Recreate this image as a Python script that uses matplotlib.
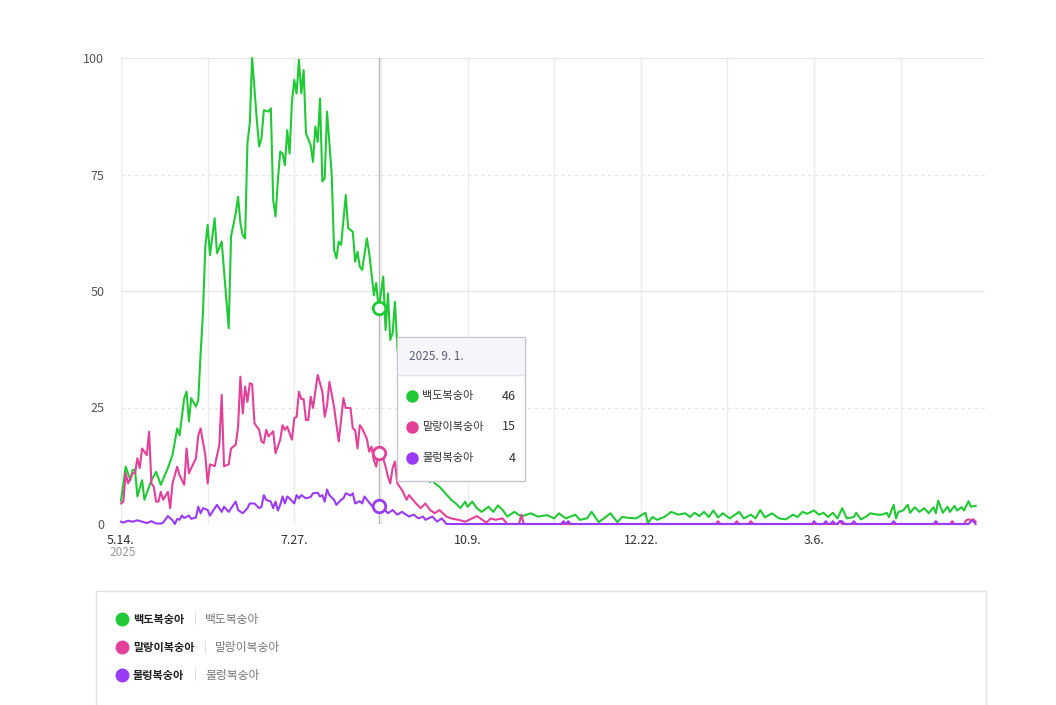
import numpy as np
import matplotlib
matplotlib.use("Agg")
import matplotlib.pyplot as plt
from matplotlib.patches import Rectangle

plt.rcParams['font.family'] = ['Noto Sans CJK KR', 'DejaVu Sans']

# day offsets from 2025-05-14, daily search index (max = 100)
start = np.datetime64('2025-05-14')
names = ['백도복숭아', '말랑이복숭아', '물렁복숭아']
colors = ['#22c936', '#e2419a', '#9a3bf5']

green_days = [0, 2, 4, 5, 6, 7, 9, 10, 13, 15, 17, 20, 22, 24, 25, 27, 28, 29, 30, 32, 33, 34, 35, 36, 37, 38,
              40, 41, 43, 46, 47, 49, 50, 51, 52, 53, 54, 55, 56, 58, 59, 60, 61, 63, 64, 65, 66, 67, 68, 69, 70,
              71, 72, 73, 74, 75, 76, 77, 78, 79, 81, 82, 83, 84, 85, 86, 87, 88, 90, 91, 92, 93, 94, 96, 97, 99,
              100, 101, 102, 103, 105, 106, 107, 108, 109, 110, 111, 112, 113, 114, 115, 116, 117, 118, 119, 120,
              121, 122, 123, 124, 125, 126, 127, 128, 129, 130, 131, 132, 133, 134, 136, 138, 141, 143, 145, 147,
              148, 150, 152, 154, 157, 159, 161, 163, 165, 168, 171, 175, 178, 182, 185, 187, 190, 194, 196, 199,
              201, 204, 207, 209, 212, 214, 217, 220, 224, 225, 227, 229, 232, 235, 238, 241, 243, 245, 247, 249,
              251, 253, 255, 257, 260, 264, 266, 269, 271, 273, 275, 278, 281, 284, 287, 289, 291, 293, 296, 298,
              300, 302, 304, 306, 308, 310, 313, 314, 316, 318, 320, 323, 325, 327, 328, 330, 331, 332, 334, 336,
              337, 339, 341, 343, 345, 347, 348, 349, 351, 353, 354, 356, 357, 359, 360, 362, 363, 365]
green_vals = [5, 12.3, 9.4, 11.6, 11.6, 5.9, 9.4, 5.2, 9.4, 11.2, 8.4, 12, 14.8, 20.5, 19, 27, 28.4, 22, 27, 25.2,
              26.6, 36.6, 45.2, 59.5, 64.2, 57.7, 65.6, 58.1, 60.6, 42, 61.7, 66.7, 70.2, 64.5, 62, 61.3, 81.7, 86,
              100, 86.7, 81, 82.8, 88.8, 88.5, 89.2, 69.5, 66, 73.8, 79.9, 79.5, 77, 84.5, 79.5, 90.6, 95.3, 92.4,
              99.6, 92.4, 97.4, 83.8, 81.3, 77.7, 85.3, 82, 91.3, 73.5, 74.2, 88.5, 74.9, 58.8, 57, 60.6, 59.9, 70.6,
              63.5, 62.7, 56.3, 58.4, 55.2, 54.5, 61.3, 58.1, 53.8, 49.1, 51.7, 46.3, 49.5, 53.1, 41.6, 49.5, 39.5,
              41, 47.7, 38, 33, 30, 26, 24, 20, 18, 15, 13, 12, 10.5, 11, 9.5, 10, 9, 9.6, 8.7, 8, 6.9, 5.2, 4.4,
              3.4, 4.8, 3.7, 4.8, 3.4, 2.6, 3.7, 2.6, 4, 3, 1.6, 2.6, 1.6, 2.3, 1.6, 1.9, 1.2, 2.3, 1.2, 2, 0.9,
              1.2, 2.6, 0.4, 1.5, 2.3, 0.4, 1.5, 1.3, 1.2, 2.4, 0.2, 1.5, 0.9, 1.5, 2.6, 2, 2.3, 1.5, 2.4, 1.7, 2.6,
              1.5, 2.9, 1.4, 2.3, 1.2, 2.6, 1.2, 2, 1.2, 3, 1.4, 2.3, 1.2, 1, 2, 1.5, 2.6, 2.2, 2.9, 2, 2.4, 1.5,
              2.4, 1.2, 3.4, 1.2, 1.5, 2.4, 1, 1.5, 2.3, 2, 2, 2.4, 1.5, 4.1, 1.2, 2.6, 2.9, 4.1, 2.4, 3.6, 2.6,
              3.4, 2.3, 3.6, 2.3, 5, 2.4, 3.7, 2.6, 3.9, 2.9, 3.6, 2.9, 4.9, 3.7, 3.9]

pink_days = [0, 1, 2, 3, 5, 6, 7, 8, 9, 11, 12, 13, 14, 15, 16, 17, 18, 20, 21, 22, 24, 25, 27, 28, 29, 30, 32,
             33, 34, 36, 37, 38, 40, 42, 43, 44, 46, 47, 49, 50, 51, 52, 53, 54, 55, 56, 57, 59, 60, 61, 62, 63,
             65, 66, 68, 69, 70, 71, 73, 74, 75, 76, 77, 78, 79, 80, 81, 82, 84, 86, 87, 88, 89, 91, 93, 95, 96,
             98, 99, 100, 101, 102, 103, 105, 106, 107, 108, 109, 110, 112, 113, 114, 115, 116, 117, 118, 120,
             122, 123, 126, 128, 130, 132, 134, 136, 139, 141, 144, 147, 150, 152, 154, 156, 158, 160, 163, 165,
             170, 171, 172, 254, 255, 256, 262, 263, 264, 268, 269, 270, 306, 307, 308, 354, 355, 356, 360, 361,
             362, 363, 364, 365]
pink_vals = [4.4, 4.8, 10.9, 8.7, 10.9, 10.9, 14.1, 12, 16.2, 14.8, 19.8, 8.7, 8, 4.8, 4.8, 6.9, 5.2, 6.9, 3.4,
             8.7, 12.3, 10.5, 8.4, 16.2, 10.9, 12, 14.1, 19, 20.5, 14.8, 8.7, 12.8, 12.4, 17, 27.7, 12.4, 12.8,
             16.2, 17, 20.9, 31.6, 23.7, 29.5, 26.2, 30.2, 30, 21.6, 20.2, 17.7, 17.4, 20.2, 18.8, 19.9, 15.2,
             18.1, 21.2, 20.2, 20.9, 18.1, 22.7, 23, 28.4, 26.8, 26.8, 22.3, 22.3, 27.3, 24.9, 32, 28.4, 23, 25.4,
             30.5, 25.1, 17.7, 27, 24.9, 24.9, 20.5, 20.2, 16.2, 21.2, 20.5, 18.3, 15.5, 16.6, 13.7, 12.3, 15.2,
             14, 12.3, 10.2, 8.7, 12, 13.4, 8.7, 7.3, 5.2, 6.2, 4.4, 3.4, 4.4, 3, 2.3, 3, 1.6, 1.2, 0.9, 0.5, 1.2,
             1.7, 1, 0.3, 1.2, 0.9, 1.2, 0, 0, 2, 0, 0, 0.6, 0, 0, 0.6, 0, 0, 0.6, 0, 0, 0.6, 0, 0, 0.6, 0, 0,
             0.8, 1, 0.8, 1, 0.5]

purple_days = [0, 1, 3, 5, 7, 9, 11, 13, 15, 17, 18, 20, 22, 23, 24, 25, 26, 27, 29, 30, 32, 33, 34, 35, 37, 38,
               39, 41, 43, 44, 46, 48, 49, 50, 52, 54, 55, 57, 59, 60, 61, 62, 64, 65, 66, 67, 68, 69, 70, 71,
               72, 74, 75, 76, 77, 79, 81, 82, 84, 85, 86, 87, 88, 89, 91, 92, 94, 95, 96, 98, 99, 100, 102, 103,
               104, 106, 108, 110, 112, 114, 116, 118, 120, 123, 125, 127, 129, 130, 133, 135, 137, 139, 188,
               189, 190, 191, 192, 295, 296, 297, 300, 301, 302, 303, 304, 305, 306, 307, 308, 309, 312, 313,
               314, 329, 330, 331, 347, 348, 349, 362, 363, 364, 365]
purple_vals = [0.5, 0.3, 0.7, 0.5, 0.8, 0.5, 0.2, 0.6, 0.1, 0.1, 0.3, 1.7, 0.8, 0, 1.1, 0.9, 1.8, 1.3, 1.8, 1.1,
               1.4, 3.7, 2.3, 3.4, 3, 1.8, 2.6, 4.1, 2.6, 3.7, 2.6, 4.1, 4.8, 3, 2.3, 3.4, 4.4, 4.4, 3.4, 3.7,
               6.2, 5.2, 4.8, 3.4, 4.8, 2.9, 4.1, 5.9, 4.4, 5.9, 5.5, 4.4, 6.2, 5.5, 6.2, 5.5, 5.8, 6.6, 6.7,
               5.9, 6.2, 4.8, 7.4, 6.2, 5.2, 4.1, 5.2, 5.5, 6.6, 6.1, 6.6, 4.4, 4.9, 4.4, 5.9, 4.6, 3.4, 3.8,
               3.4, 2.3, 3, 2, 2.6, 1.6, 2, 1.2, 1.6, 0.9, 1.6, 0.5, 1.2, 0, 0, 0.6, 0, 0.6, 0, 0, 0.6, 0, 0,
               0.6, 0, 0, 0.6, 0, 0, 0.6, 0.6, 0, 0, 0.6, 0, 0, 0.6, 0, 0, 0.6, 0, 0, 0.6, 0.6, 0]

series_days = [green_days, pink_days, purple_days]
series_vals = [green_vals, pink_vals, purple_vals]

tick_days = [0, 74, 148, 222, 296]
y_ticks = [0, 25, 50, 75, 100]
hover_day = 110

W, H = 1056, 705
fig = plt.figure(figsize=(W / 100, H / 100), dpi=100)
ax = fig.add_axes([121 / W, 1 - 524 / H, (985 - 121) / W, (524 - 58) / H])
ax.set_xlim(0, 369)
ax.set_ylim(0, 100)
for s in ax.spines.values():
    s.set_visible(False)

# grid
for d in range(0, 369, 37):
    ax.axvline(d, color='#ececec', lw=1, zorder=0)
for yv in y_ticks:
    if yv in (25, 75):
        ax.axhline(yv, color='#e4e4e4', lw=0.8, ls=(0, (3, 3)), zorder=0)
    else:
        ax.axhline(yv, color='#e6e6e6', lw=1, zorder=0)

for days, vals, c in zip(series_days, series_vals, colors):
    ax.plot(days, vals, color=c, lw=1.5, clip_on=False, zorder=3)

# hover crosshair + markers
ax.axvline(hover_day, color='#b5b5b5', lw=1, zorder=2)
hover_vals = []
for days, vals, c in zip(series_days, series_vals, colors):
    v = vals[days.index(hover_day)]
    hover_vals.append(v)
    ax.plot(hover_day, v, 'o', ms=9, mfc='white', mec=c, mew=2, zorder=6, clip_on=False)

ax.set_yticks(y_ticks)
ax.set_yticklabels([str(v) for v in y_ticks])
ax.set_xticks(tick_days)
tick_dates = [start + np.timedelta64(d, 'D') for d in tick_days]
ax.set_xticklabels([f"{int(str(t)[5:7])}.{int(str(t)[8:10])}." for t in tick_dates])
ax.tick_params(axis='y', length=0, pad=12, labelsize=9, labelcolor='#555555')
ax.tick_params(axis='x', length=0, pad=7, labelsize=9, labelcolor='#333333')

# overlay in pixel coordinates
ov = fig.add_axes([0, 0, 1, 1], zorder=10)
ov.set_xlim(0, W)
ov.set_ylim(H, 0)
ov.axis('off')
ov.patch.set_alpha(0)

ov.text(109, 553, str(start)[:4], fontsize=8.5, color='#999999', ha='left', va='center')

# tooltip
hd = start + np.timedelta64(hover_day, 'D')
hd_s = str(hd)
ov.add_patch(Rectangle((397, 337), 128, 144, fc='white', ec='#c6c6ce', lw=1))
ov.add_patch(Rectangle((397.6, 337.6), 126.8, 37.4, fc='#f6f6fa', ec='none'))
ov.plot([397.6, 524.4], [375, 375], color='#e2e2ea', lw=1)
ov.text(409, 356, f"{hd_s[:4]}. {int(hd_s[5:7])}. {int(hd_s[8:10])}.", fontsize=8.5,
        color='#5b5f73', ha='left', va='center')
for i, (n, c, v) in enumerate(zip(names, colors, hover_vals)):
    yy = 396 + 31 * i
    ov.plot(412, yy, 'o', ms=8, color=c)
    ov.text(422, yy, n, fontsize=8, color='#333333', ha='left', va='center')
    ov.text(516, yy, f"{round(v)}", fontsize=9, color='#333333', ha='right', va='center')

# legend panel
ov.add_patch(Rectangle((95.5, 590.5), 890, 140, fc='none', ec='#e2e2e2', lw=1))
sep_x = [195, 205, 195]
for i, (n, c) in enumerate(zip(names, colors)):
    yy = 619 + 28 * i
    ov.plot(122, yy, 'o', ms=9, color=c)
    ov.text(133, yy, n, fontsize=8, color='#222222', fontweight='semibold', ha='left', va='center')
    ov.text(sep_x[i], yy, '|', fontsize=8, color='#d0d0d0', ha='center', va='center')
    ov.text(sep_x[i] + 10, yy, n, fontsize=8.5, color='#777777', ha='left', va='center')

fig.savefig('out.png', dpi=100)
